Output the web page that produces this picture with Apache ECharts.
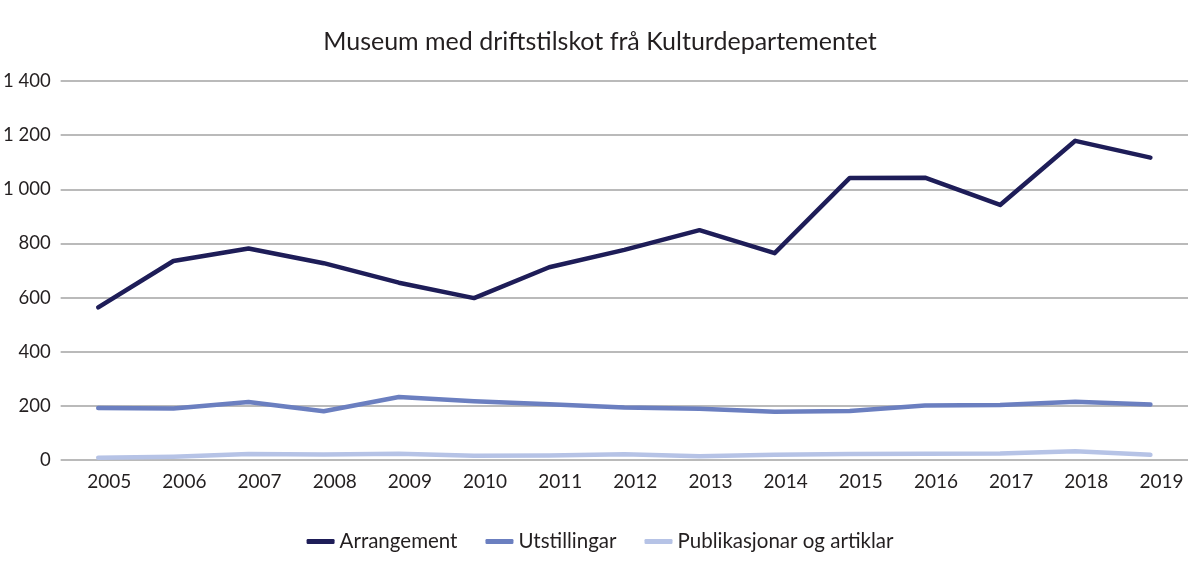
<!DOCTYPE html>
<html><head><meta charset="utf-8">
<script src="https://cdn.jsdelivr.net/npm/echarts@6/dist/echarts.min.js"></script>
<style>html,body{margin:0;padding:0;background:#fff}#c{width:1200px;height:568px}</style>
</head><body><div id="c"></div>
<script>
const title = 'Museum med driftstilskot frå Kulturdepartementet';
const years = ['2005','2006','2007','2008','2009','2010','2011','2012','2013','2014','2015','2016','2017','2018','2019'];
const arrangement = [564, 735, 781, 727, 655, 598, 712, 776, 849, 764, 1042, 1043, 942, 1179, 1117];
const utstillingar = [192, 190, 214, 180, 233, 217, 206, 194, 189, 178, 181, 201, 203, 215, 205];
const publikasjonar = [8, 12, 22, 20, 23, 16, 17, 21, 14, 19, 22, 23, 24, 32, 19];
const seriesNames = ['Arrangement', 'Utstillingar', 'Publikasjonar og artiklar'];
const colors = ['#1e1d58', '#6b7fc0', '#b6c3e6'];

const font = 'Lato, "Open Sans", sans-serif';
const chart = echarts.init(document.getElementById('c'));
function mk(name, data, color) {
  return {name, type:'line', data, symbol:'none', smooth:false,
    lineStyle:{width:4.5, color, cap:'round', join:'round'}, itemStyle:{color}};
}
chart.setOption({
  animation:false,
  title:{text:title, left:'center', top:24, textStyle:{fontFamily:font, fontSize:25, fontWeight:'normal', color:'#231f20'}},
  grid:{left:58, right:12, top:81, bottom:108, containLabel:false},
  legend:{bottom:11, left:'center', itemWidth:28, itemHeight:5, itemGap:28,
    icon:'roundRect',
    textStyle:{fontFamily:font, fontSize:20.5, color:'#231f20'}, data:seriesNames},
  xAxis:{type:'category', data:years, boundaryGap:true,
    axisLine:{show:false}, axisTick:{show:false},
    axisLabel:{fontFamily:font, fontSize:19, color:'#231f20', margin:12, padding:[0,0,0,22]}},
  yAxis:{type:'value', min:0, max:1400, interval:200,
    axisLine:{show:false}, axisTick:{show:false},
    splitLine:{lineStyle:{color:'#a3a3a3', width:1.5}},
    axisLabel:{fontFamily:font, fontSize:18.5, color:'#231f20', margin:10,
      formatter:v=>String(v).replace(/\B(?=(\d{3})+(?!\d))/g,' ')}},
  series:[mk(seriesNames[0], arrangement, colors[0]), mk(seriesNames[1], utstillingar, colors[1]), mk(seriesNames[2], publikasjonar, colors[2])]
});
</script></body></html>
